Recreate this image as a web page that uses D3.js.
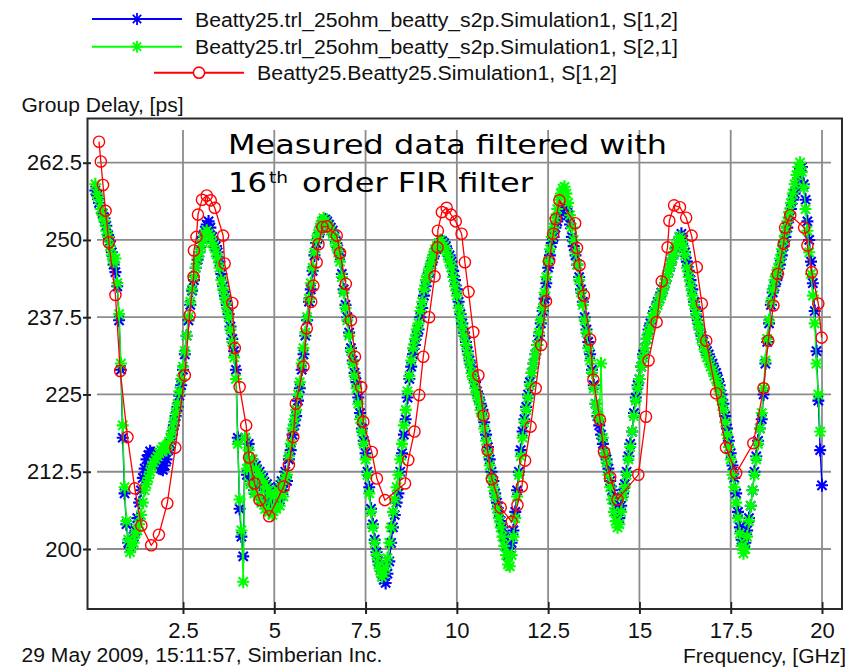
<!DOCTYPE html>
<html><head><meta charset="utf-8">
<script src="https://cdn.jsdelivr.net/npm/d3@7"></script>
<style>
body{margin:0;background:#fff;}
svg{display:block;font-family:"Liberation Sans",Arial,sans-serif;}
</style></head><body>
<svg id="chart" width="853" height="671"></svg>
<script>
// ---------------- data ----------------
const seriesNames = [
  "Beatty25.trl_25ohm_beatty_s2p.Simulation1, S[1,2]",
  "Beatty25.trl_25ohm_beatty_s2p.Simulation1, S[2,1]",
  "Beatty25.Beatty25.Simulation1, S[1,2]"
];
const xTicks = [2.5, 5, 7.5, 10, 12.5, 15, 17.5, 20];
const xTickLabels = ["2.5", "5", "7.5", "10", "12.5", "15", "17.5", "20"];
const yTicks = [200, 212.5, 225, 237.5, 250, 262.5];
const yTickLabels = ["200", "212.5", "225", "237.5", "250", "262.5"];

// measured data sampled from 0.10 GHz every 0.05 GHz
const measFreqStart = 0.10, measFreqStep = 0.05;
const blueDelay = [
 258.0,257.2,256.0,255.0,254.3,253.5,252.3,250.8,249.8,248.0,246.0,244.8,242.5,237.0,229.0,218.0,209.0,204.0,
 201.0,200.2,201.5,202.0,203.0,205.0,207.5,209.5,211.5,213.0,214.5,215.2,215.8,215.5,215.2,214.5,214.0,213.5,213.0,212.8,
 213.5,214.5,216.0,217.0,218.5,220.0,221.5,223.0,224.8,226.5,229.0,231.5,234.5,237.0,239.5,241.8,243.5,245.5,246.8,248.0,
 249.5,250.5,251.5,252.5,253.0,252.0,250.5,249.5,249.0,248.0,246.5,244.5,242.5,241.0,239.5,238.0,236.0,234.0,232.0,229.0,
 218.0,206.5,202.0,198.8,218.0,212.0,217.0,211.0,214.5,209.5,213.5,210.0,212.5,208.0,211.5,207.5,210.5,207.0,209.5,206.5,
 209.0,207.5,210.0,208.0,211.0,209.5,212.5,211.0,214.5,216.0,218.5,220.0,221.5,224.0,226.0,229.0,231.5,234.5,237.0,240.0,
 242.0,245.0,247.5,249.5,250.5,251.5,252.5,253.0,253.3,253.0,252.5,252.0,251.5,250.5,249.5,248.5,247.5,244.5,242.0,239.5,
 237.5,235.0,232.5,230.5,228.5,227.0,224.5,222.0,219.5,217.5,215.5,212.5,210.0,206.5,204.0,201.5,199.5,198.0,197.0,196.0,
 195.0,194.5,196.0,198.0,201.0,203.5,205.5,207.5,209.0,212.5,215.5,218.5,221.0,224.5,227.5,229.5,231.5,233.0,234.5,235.5,
 237.5,239.0,241.0,242.5,244.0,245.0,246.0,247.0,248.0,248.5,249.0,249.5,249.8,249.5,249.0,248.0,247.5,246.5,245.0,243.5,
 242.0,240.0,238.0,236.5,235.0,233.5,232.0,230.5,229.5,228.0,227.0,225.5,224.5,223.5,222.5,220.5,218.5,216.5,214.5,212.5,
 211.0,209.0,207.5,206.0,204.5,203.5,202.0,200.5,199.0,199.5,201.0,203.0,206.0,209.5,212.5,216.0,219.0,221.0,223.0,225.0,
 227.0,228.5,230.0,231.5,233.0,234.5,236.5,238.5,240.5,243.0,245.5,247.5,249.5,250.5,252.0,253.0,254.0,254.5,255.0,255.3,
 255.0,254.0,252.5,250.5,249.0,247.5,246.0,244.0,242.0,240.0,237.5,235.5,233.5,231.5,229.0,226.5,223.5,221.5,220.0,218.5,
 217.0,215.5,214.5,213.0,211.0,209.5,208.0,206.5,205.5,205.0,207.0,209.0,210.5,212.5,215.0,217.0,219.0,222.0,224.5,226.5,
 227.5,229.5,231.5,232.5,234.0,235.5,236.5,237.5,238.5,239.0,240.0,240.5,241.5,242.0,243.0,244.0,245.0,246.0,247.0,248.0,
 248.8,249.5,250.5,251.0,250.0,248.0,246.5,245.0,243.5,242.0,240.0,238.5,237.0,235.5,234.5,233.5,232.5,232.0,231.5,230.5,
 230.0,229.0,228.5,227.5,226.5,225.0,223.5,221.5,219.5,217.5,215.5,213.5,211.5,209.0,206.0,203.5,201.5,200.5,201.0,203.0,
 205.0,207.0,209.5,212.5,215.0,217.5,219.5,221.0,225.0,230.0,233.5,236.5,239.5,241.5,242.5,243.5,244.5,246.0,247.5,249.0,
 250.5,252.0,253.5,255.0,256.5,257.5,258.5,260.0,261.5,261.8,259.0,256.5,253.0,250.0,246.5,243.0,238.5,232.0,224.0,216.0,210.3
];
const greenDelay = [
 259.0,257.5,256.5,255.0,254.0,253.0,251.5,250.5,249.0,247.5,246.5,247.0,243.0,238.0,230.0,220.0,210.0,204.5,
 201.5,199.5,200.5,201.0,202.5,203.0,204.0,205.5,207.5,209.5,210.5,211.5,212.5,213.5,214.0,214.5,215.0,215.5,216.0,216.5,
 216.5,216.0,217.0,218.0,219.0,220.5,222.0,223.5,225.5,227.5,229.5,232.0,234.5,237.5,240.0,242.0,244.0,245.5,247.0,248.0,
 249.0,250.0,251.0,251.5,251.0,250.5,249.5,249.0,248.0,247.0,245.5,243.5,242.0,240.5,239.0,237.5,235.5,233.5,231.0,227.5,
 217.0,208.0,203.0,194.7,218.0,213.0,216.0,210.5,214.5,209.0,213.0,208.5,212.0,207.5,211.0,206.5,210.0,206.0,209.0,205.5,
 208.5,206.5,209.5,207.0,210.5,208.5,211.5,212.0,215.0,217.0,219.5,221.0,222.5,225.0,227.0,230.0,232.5,235.0,237.5,240.5,
 243.0,245.5,248.0,250.0,251.0,252.0,253.0,253.5,253.0,252.5,252.0,251.5,251.0,250.0,249.0,248.0,246.5,244.0,241.5,239.0,
 237.0,234.5,232.0,230.0,228.0,226.0,223.5,221.0,219.0,217.0,214.5,212.0,209.0,206.0,203.5,201.0,199.0,197.5,196.5,195.5,
 196.0,197.0,198.5,201.0,203.5,206.0,208.0,210.0,212.0,214.5,217.0,220.0,222.5,225.5,228.0,230.5,232.5,234.0,235.5,236.5,
 238.5,240.0,242.0,243.5,244.5,245.5,246.5,247.5,248.5,249.0,249.5,250.0,249.5,249.0,248.5,247.5,246.5,245.5,244.0,242.5,
 241.0,239.0,237.5,236.0,234.5,233.0,231.5,230.0,228.5,227.5,226.0,225.0,224.0,222.5,221.5,219.5,217.5,215.5,213.5,211.5,
 210.0,208.5,206.5,205.0,203.5,202.0,200.5,199.0,197.5,197.2,199.0,202.0,205.0,208.5,212.0,215.0,218.0,220.5,222.5,224.5,
 226.5,228.5,230.0,231.5,233.0,235.0,237.0,239.0,241.5,244.0,246.5,248.5,250.5,252.0,253.5,255.0,256.5,257.5,258.3,258.6,
 257.5,256.0,254.0,252.0,250.0,248.0,246.0,243.5,241.5,239.5,237.0,235.0,232.5,230.5,228.5,226.0,223.5,222.0,221.0,230.0,
 218.0,215.5,214.0,212.0,210.0,208.0,206.0,204.5,203.5,204.0,206.0,208.5,210.0,212.0,214.5,216.5,219.0,221.5,224.0,226.0,
 227.5,229.5,231.0,232.5,234.0,235.0,236.0,237.5,238.0,239.0,239.5,240.5,241.0,242.0,243.0,244.0,245.0,246.0,247.0,248.0,
 249.0,249.5,250.5,250.0,249.0,247.5,245.5,244.0,242.5,241.0,239.5,238.0,236.5,235.5,234.0,233.0,232.0,231.0,230.5,229.5,
 229.0,228.0,227.5,226.5,225.5,224.0,222.5,220.5,218.5,216.5,214.5,212.0,210.0,207.5,205.0,202.5,200.5,199.3,200.0,202.0,
 204.5,207.0,209.5,212.0,214.5,217.0,219.5,222.0,226.0,230.5,234.0,237.0,240.0,242.0,243.5,244.5,245.5,247.0,248.5,250.0,
 251.5,253.0,254.5,256.0,257.5,259.0,260.5,261.8,262.5,261.0,258.5,255.0,251.5,248.0,244.5,241.0,236.5,230.0,225.0,219.0
];
// model (red) points
const redFreq = [
 0.20,0.25,0.31,0.38,0.47,0.65,0.78,0.98,1.18,1.36,1.63,1.84,2.07,2.29,2.55,2.68,2.79,2.80,2.87,2.91,
 3.02,3.15,3.26,3.37,3.60,3.64,3.85,3.92,4.05,4.23,4.31,4.46,4.60,4.86,5.26,5.40,5.52,5.59,5.80,5.89,
 6.01,6.07,6.16,6.21,6.32,6.44,6.71,6.80,6.96,7.10,7.21,7.38,7.44,7.67,7.81,8.03,8.58,8.67,8.84,8.97,
 9.08,9.24,9.39,9.47,9.48,9.59,9.72,9.84,9.97,10.13,10.22,10.32,10.45,10.59,10.73,10.84,10.96,11.20,11.50,11.66,
 11.78,11.87,12.02,12.16,12.31,12.44,12.53,12.64,12.71,12.81,13.24,13.29,13.36,13.48,13.65,13.74,13.92,14.03,14.20,14.40,
 14.97,15.18,15.25,15.47,15.61,15.77,15.82,15.95,16.11,16.28,16.43,16.57,16.71,16.83,17.10,17.37,17.65,18.12,18.40,18.53,
 18.67,18.79,18.95,18.99,19.13,19.51,19.60,19.72,19.90,19.99
];
const redDelay = [
 265.9,262.7,258.9,254.7,249.6,241.1,228.8,218.1,209.8,203.8,200.6,202.3,207.4,216.4,228.1,237.8,244.0,248.3,250.5,254.1,
 256.5,257.2,256.4,255.2,250.7,246.2,239.8,232.5,226.2,220.0,214.8,210.6,207.9,205.3,210.1,213.6,218.1,223.5,229.5,235.7,
 240.0,242.6,246.4,249.3,252.1,252.2,250.7,247.9,242.9,237.0,231.1,226.2,220.6,215.7,211.4,207.9,210.6,214.4,219.0,224.9,
 231.1,237.5,244.1,248.8,251.5,254.5,255.2,254.1,253.0,251.0,246.4,241.6,235.1,228.1,221.6,216.0,211.3,206.7,204.4,207.1,
 210.1,214.3,219.8,226.0,233.0,240.1,246.6,251.0,253.4,256.4,252.7,248.7,245.9,241.0,233.9,227.4,220.9,215.7,211.6,208.0,
 212.0,221.4,230.5,236.7,243.3,248.8,253.1,255.6,255.3,253.6,250.7,245.6,239.7,233.7,225.2,216.4,212.3,217.1,226.0,233.7,
 239.4,244.5,249.4,252.0,254.0,252.0,249.1,244.8,239.7,234.2
];
const seriesColors = ["#0000ff", "#00ff00", "#ff0000"];

// ---------------- chart ----------------
const svg = d3.select("#chart");
svg.append("rect").attr("width", 853).attr("height", 671).attr("fill", "#fff");

const x = d3.scaleLinear().domain([-0.115, 20.548]).range([87.5, 842]);
const y = d3.scaleLinear().domain([190.29, 269.65]).range([609, 118.5]);

// grid
const grid = svg.append("g");
grid.selectAll("line.h").data(yTicks).join("line")
  .attr("x1", 97).attr("x2", 831)
  .attr("y1", d => y(d)).attr("y2", d => y(d))
  .attr("stroke", "#8c8c8c").attr("stroke-width", 1.8);
grid.selectAll("line.v").data(xTicks).join("line")
  .attr("x1", d => x(d)).attr("x2", d => x(d))
  .attr("y1", 130).attr("y2", 602)
  .attr("stroke", "#8c8c8c").attr("stroke-width", 1.8);

// frame
svg.append("rect").attr("x", 87.5).attr("y", 118.5).attr("width", 842 - 87.5).attr("height", 609 - 118.5)
  .attr("fill", "none").attr("stroke", "#2a2a2a").attr("stroke-width", 2);

// axes
const yAxis = d3.axisLeft(y).tickValues(yTicks)
  .tickFormat(d => yTickLabels[yTicks.indexOf(d)]).tickSize(4.5).tickPadding(5.5);
const gy = svg.append("g").attr("transform", "translate(87.5,0)").call(yAxis);
gy.select(".domain").remove();
gy.selectAll(".tick line").attr("x1", 3.5).attr("x2", -4.5).attr("stroke", "#222").attr("stroke-width", 2);
gy.selectAll(".tick text").attr("font-family", "Liberation Sans, Arial, sans-serif")
  .attr("font-size", 22).attr("fill", "#111").attr("x", -5.5);

const xAxis = d3.axisBottom(x).tickValues(xTicks)
  .tickFormat(d => xTickLabels[xTicks.indexOf(d)]).tickSize(5);
const gx = svg.append("g").attr("transform", "translate(0,609)").call(xAxis);
gx.select(".domain").remove();
gx.selectAll(".tick line").attr("y1", -7).attr("y2", 5).attr("stroke", "#222").attr("stroke-width", 2);
gx.selectAll(".tick text").attr("font-family", "Liberation Sans, Arial, sans-serif")
  .attr("font-size", 22).attr("fill", "#111").attr("y", 13).attr("dy", "0.71em");

// series
const starPath = "M0,-6.5V6.5M-6,0H6M-4.6,-4.6L4.6,4.6M-4.6,4.6L4.6,-4.6";
const legendStar = "M0,-6V6M-5.5,0H5.5M-4.2,-4.2L4.2,4.2M-4.2,4.2L4.2,-4.2";
const line = d3.line().x(d => x(d[0])).y(d => y(d[1]));
function measPoints(arr) {
  return arr.map((v, i) => [+(measFreqStart + i * measFreqStep).toFixed(2), v]);
}
const plot = svg.append("g");
[blueDelay, greenDelay].forEach((arr, k) => {
  const pts = measPoints(arr);
  const g = plot.append("g");
  g.append("path").attr("d", line(pts)).attr("fill", "none")
    .attr("stroke", seriesColors[k]).attr("stroke-width", 1.4);
  g.selectAll("path.m").data(pts).join("path").attr("class", "m")
    .attr("d", starPath)
    .attr("transform", d => `translate(${x(d[0])},${y(d[1])})`)
    .attr("fill", "none").attr("stroke", seriesColors[k]).attr("stroke-width", 2.1);
});
const redPts = redFreq.map((f, i) => [f, redDelay[i]]);
const gr = plot.append("g");
gr.append("path").attr("d", line(redPts)).attr("fill", "none")
  .attr("stroke", seriesColors[2]).attr("stroke-width", 1.3);
gr.selectAll("circle").data(redPts).join("circle")
  .attr("cx", d => x(d[0])).attr("cy", d => y(d[1])).attr("r", 5.6)
  .attr("fill", "none").attr("stroke", seriesColors[2]).attr("stroke-width", 1.4);

// legend
const legendRows = [
  {y: 19, x1: 92, x2: 182, mx: 137, tx: 195, tl: 483, shape: "star"},
  {y: 46.7, x1: 92, x2: 182, mx: 137, tx: 195, tl: 483, shape: "star"},
  {y: 72.7, x1: 154, x2: 244, mx: 199, tx: 257, tl: 360, shape: "circle"}
];
const lg = svg.append("g");
legendRows.forEach((r, i) => {
  lg.append("line").attr("x1", r.x1).attr("x2", r.x2).attr("y1", r.y).attr("y2", r.y)
    .attr("stroke", seriesColors[i]).attr("stroke-width", 2);
  if (r.shape === "star") {
    lg.append("path").attr("d", legendStar).attr("transform", `translate(${r.mx},${r.y})`)
      .attr("fill", "none").attr("stroke", seriesColors[i]).attr("stroke-width", 1.8);
  } else {
    lg.append("circle").attr("cx", r.mx).attr("cy", r.y).attr("r", 5.6)
      .attr("fill", "#fff").attr("stroke", seriesColors[i]).attr("stroke-width", 1.6);
  }
  lg.append("text").attr("x", r.tx).attr("y", r.y + 7.5)
    .attr("font-size", 19.5).attr("fill", "#111")
    .attr("textLength", r.tl).attr("lengthAdjust", "spacingAndGlyphs")
    .text(seriesNames[i]);
});

// axis titles & footer
svg.append("text").attr("x", 21.5).attr("y", 111.5).attr("font-size", 20.5).attr("fill", "#111")
  .attr("textLength", 162).attr("lengthAdjust", "spacingAndGlyphs").text("Group Delay, [ps]");
svg.append("text").attr("x", 21.5).attr("y", 662).attr("font-size", 20.5).attr("fill", "#111")
  .attr("textLength", 361).attr("lengthAdjust", "spacingAndGlyphs").text("29 May 2009, 15:11:57, Simberian Inc.");
svg.append("text").attr("x", 683).attr("y", 663).attr("font-size", 20.5).attr("fill", "#111")
  .attr("textLength", 163).attr("lengthAdjust", "spacingAndGlyphs").text("Frequency, [GHz]");

// annotation
const ann = svg.append("g").attr("font-family", "DejaVu Sans, Verdana, sans-serif").attr("fill", "#000");
ann.append("text").attr("x", 228).attr("y", 153.5).attr("font-size", 27)
  .attr("textLength", 439).attr("lengthAdjust", "spacingAndGlyphs").text("Measured data filtered with");
ann.append("text").attr("x", 228).attr("y", 191.5).attr("font-size", 27)
  .attr("textLength", 39).attr("lengthAdjust", "spacingAndGlyphs").text("16");
ann.append("text").attr("x", 269).attr("y", 182.5).attr("font-size", 16)
  .attr("textLength", 19).attr("lengthAdjust", "spacingAndGlyphs").text("th");
ann.append("text").attr("x", 302).attr("y", 191.5).attr("font-size", 27)
  .attr("textLength", 231).attr("lengthAdjust", "spacingAndGlyphs").text("order FIR filter");
</script>
</body></html>
